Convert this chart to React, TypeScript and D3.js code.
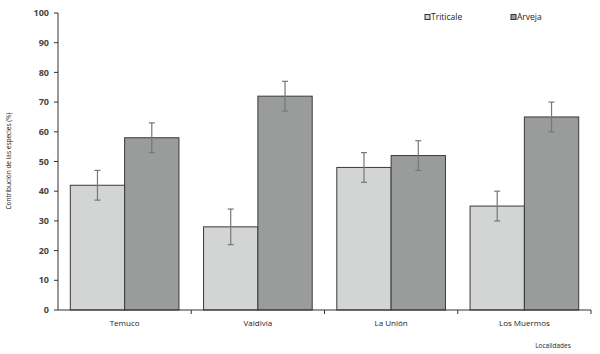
import React from "react";
import * as d3 from "d3";

const categories = ["Temuco", "Valdivia", "La Unión", "Los Muermos"];
const series = ["Triticale", "Arveja"];
const triticale = [42, 28, 48, 35];
const arveja = [58, 72, 52, 65];
const triticaleErr = [5, 6, 5, 5];
const arvejaErr = [5, 5, 5, 5];
const yTicks = [0, 10, 20, 30, 40, 50, 60, 70, 80, 90, 100];
const colors = ["#d3d5d4", "#9a9c9c"];

export default function App() {
  const W = 600, H = 354;
  const left = 58, right = 591, top = 13, bottom = 310;
  const x = d3.scaleBand<string>().domain(categories).range([left, right]).padding(0);
  const gp = 12.3;
  const x1 = d3.scaleBand<string>().domain(series).range([gp, x.bandwidth() - gp]);
  const y = d3.scaleLinear().domain([0, 100]).range([bottom, top]);
  const values = [triticale, arveja];
  const errs = [triticaleErr, arvejaErr];
  const font = "'Open Sans', sans-serif";
  return (
    <svg width={W} height={H} style={{ position: "absolute", left: 0, top: 0 }} fontFamily={font}>
      <rect width={W} height={H} fill="#fff" />
      {categories.map((c, i) =>
        series.map((s, j) => {
          const v = values[j][i];
          const e = errs[j][i];
          const bx = (x(c) as number) + (x1(s) as number);
          const bw = x1.bandwidth();
          const cx = bx + bw / 2;
          return (
            <g key={c + s}>
              <rect x={bx} y={y(v)} width={bw} height={bottom - y(v)} fill={colors[j]} stroke="#3a3a3a" strokeWidth={1} />
              <line x1={cx} x2={cx} y1={y(v + e)} y2={y(v - e)} stroke="#777" strokeWidth={1.2} />
              <line x1={cx - 3} x2={cx + 3} y1={y(v + e)} y2={y(v + e)} stroke="#777" strokeWidth={1.2} />
              <line x1={cx - 3} x2={cx + 3} y1={y(v - e)} y2={y(v - e)} stroke="#777" strokeWidth={1.2} />
            </g>
          );
        })
      )}
      {/* y axis */}
      <line x1={left} x2={left} y1={top} y2={bottom} stroke="#333" strokeWidth={1} />
      {yTicks.map((t) => (
        <g key={t}>
          <line x1={left - 4} x2={left} y1={y(t)} y2={y(t)} stroke="#333" />
          <text x={left - 9} y={y(t)} dy="0.35em" textAnchor="end" fontSize={9} fontWeight="bold" fill="#444">{t}</text>
        </g>
      ))}
      {/* x axis */}
      <line x1={left} x2={right} y1={bottom} y2={bottom} stroke="#333" strokeWidth={1} />
      {categories.map((c) => (
        <line key={"t" + c} x1={(x(c) as number) + x.bandwidth()} x2={(x(c) as number) + x.bandwidth()} y1={bottom} y2={bottom + 4} stroke="#333" />
      ))}
      {categories.map((c) => (
        <text key={"l" + c} x={(x(c) as number) + x.bandwidth() / 2} y={323} dy="0.35em" textAnchor="middle" fontSize={8} fill="#222">{c}</text>
      ))}
      <text x={553} y={346} dy="0.35em" textAnchor="middle" fontSize={6.5} fill="#222">Localidades</text>
      <text transform={`translate(11,161) rotate(-90)`} textAnchor="middle" fontSize={6.5} fill="#222">Contribución de las especies (%)</text>
      {/* legend */}
      {series.map((s, j) => {
        const lx = [425, 511][j];
        return (
          <g key={"lg" + s}>
            <rect x={lx} y={14.5} width={5} height={5} fill={colors[j]} stroke="#333" strokeWidth={1} />
            <text x={lx + 6} y={17} dy="0.35em" fontSize={8.5} fill="#222">{s}</text>
          </g>
        );
      })}
    </svg>
  );
}
